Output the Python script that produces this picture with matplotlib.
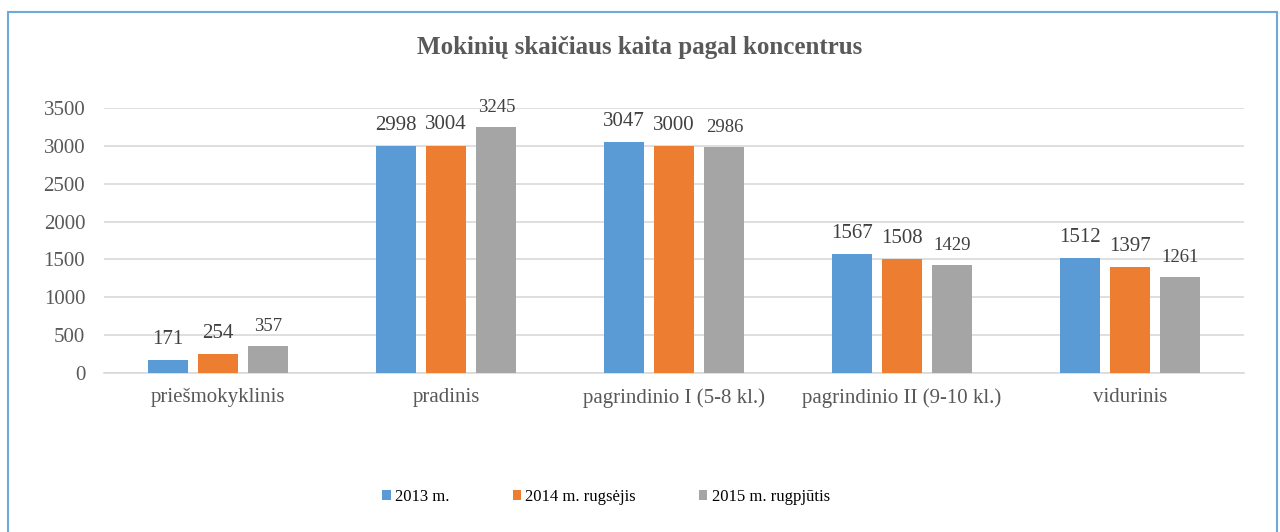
import numpy as np
import matplotlib
matplotlib.use('Agg')
import matplotlib.pyplot as plt
from matplotlib.patches import Rectangle

plt.rcParams['font.family'] = ['Liberation Serif', 'DejaVu Serif']

# Data
categories = ['priešmokyklinis', 'pradinis', 'pagrindinio I (5-8 kl.)',
              'pagrindinio II (9-10 kl.)', 'vidurinis']
series_names = ['2013 m.', '2014 m. rugsėjis', '2015 m. rugpjūtis']
vals_2013 = [171, 2998, 3047, 1567, 1512]
vals_2014 = [254, 3004, 3000, 1508, 1397]
vals_2015 = [357, 3245, 2986, 1429, 1261]
yticks = [0, 500, 1000, 1500, 2000, 2500, 3000, 3500]

colors = ['#5B9BD5', '#ED7D31', '#A5A5A5']
label_sizes = [15, 15, 13.5]
text_col = '#595959'

fig = plt.figure(figsize=(12.8, 5.32), dpi=100)
ax = fig.add_axes([0.08125, 0.299, 0.8906, 0.498])

x = np.arange(len(categories))
width = 0.175
step = 0.221
all_vals = [vals_2013, vals_2014, vals_2015]
for i, vals in enumerate(all_vals):
    pos = x + (i - 1) * step
    bars = ax.bar(pos, vals, width, color=colors[i], label=series_names[i], zorder=3)
    for b, v in zip(bars, vals):
        ax.annotate(str(v), (b.get_x() + b.get_width() / 2, v),
                    xytext=(0, 8), textcoords='offset points',
                    ha='center', va='bottom', fontsize=label_sizes[i], color='#404040')

ax.set_xlim(-0.5, len(categories) - 0.5)
ax.set_ylim(0, 3500)
ax.set_yticks(yticks)
ax.set_xticks(x)
ax.set_xticklabels(categories)
ax.tick_params(axis='both', length=0, labelsize=15, colors=text_col)
ax.tick_params(axis='y', pad=13.5)
ax.tick_params(axis='x', pad=11)
ax.grid(axis='y', color='#D9D9D9', linewidth=1.2, zorder=0)
for s in ['top', 'right', 'left']:
    ax.spines[s].set_visible(False)
ax.spines['bottom'].set_color('#D9D9D9')
ax.spines['bottom'].set_linewidth(1.2)

fig.text(0.5, 0.91, 'Mokinių skaičiaus kaita pagal koncentrus', ha='center', va='center',
         fontsize=18, fontweight='bold', color=text_col)

fig.legend(loc='center', bbox_to_anchor=(606 / 1280, 0.066), ncol=3, frameon=False,
           fontsize=12, handlelength=0.5, handleheight=0.5, handletextpad=0.25,
           columnspacing=3.8, labelcolor='#000000')

fig.patches.append(Rectangle((8 / 1280, -0.05), 1269 / 1280, 1 - 12 / 532 + 0.05,
                             transform=fig.transFigure, fill=False,
                             edgecolor='#6FA8DC', linewidth=1.5))

fig.savefig('out.png', dpi=100)
